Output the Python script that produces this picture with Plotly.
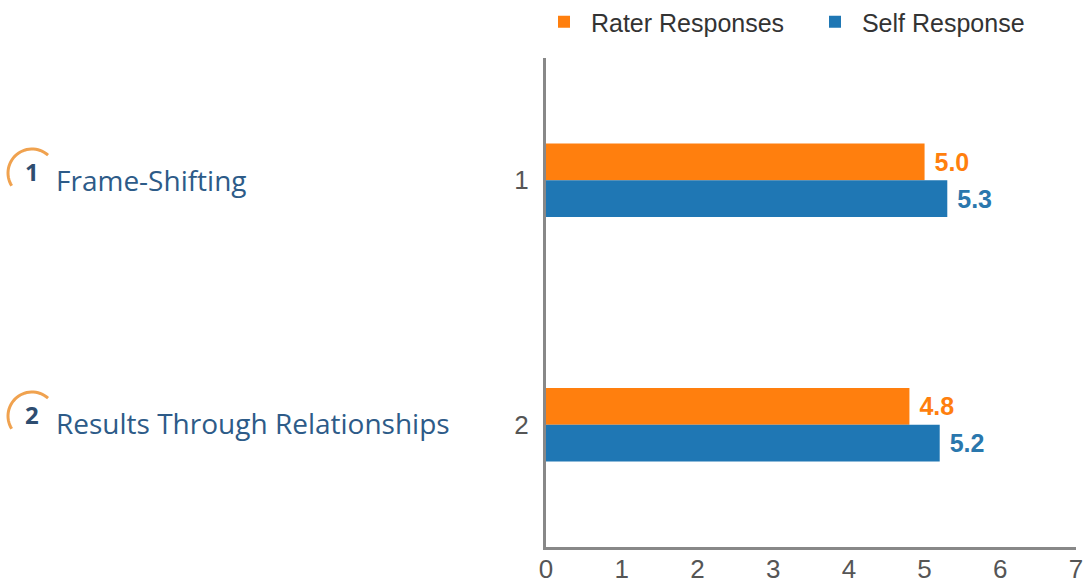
import math
import plotly.graph_objects as go

categories = [1, 2]
rater_values = [5.0, 4.8]
self_values = [5.3, 5.2]
x_ticks = [0, 1, 2, 3, 4, 5, 6, 7]
left_titles = ["Frame-Shifting", "Results Through Relationships"]
left_numbers = ["1", "2"]

W, H = 1088, 585
L, R, T, B = 546, 12, 58, 38
pw, ph = W - L - R, H - T - B

def px(x):
    return (x - L) / pw

def py(y):
    return (H - B - y) / ph

ORANGE = "#ff7f0e"
BLUE = "#1f77b4"
TICKFONT = dict(family="Liberation Sans, Arial", size=26, color="#555555")

fig = go.Figure()
fig.add_trace(go.Bar(
    y=categories, x=rater_values, orientation="h", name="\u00a0Rater Responses",
    marker=dict(color=ORANGE, line=dict(width=0)),
    texttemplate="\u00a0%{x:.1f}", textposition="outside",
    textfont=dict(family="Liberation Sans, Arial", size=25, color=ORANGE, weight="bold"),
    cliponaxis=False,
))
fig.add_trace(go.Bar(
    y=categories, x=self_values, orientation="h", name="\u00a0Self Response",
    marker=dict(color=BLUE, line=dict(width=0)),
    texttemplate="\u00a0%{x:.1f}", textposition="outside",
    textfont=dict(family="Liberation Sans, Arial", size=25, color="#2a77ad", weight="bold"),
    cliponaxis=False,
))

annotations = []
shapes = []
for i, (num, title) in enumerate(zip(left_numbers, left_titles)):
    dy = i * 243
    annotations.append(dict(
        xref="paper", yref="paper", x=px(54), y=py(180 + dy), xanchor="left", yanchor="middle",
        text=title, showarrow=False,
        font=dict(family="Open Sans", size=28, color="#2d5b88"),
    ))
    annotations.append(dict(
        xref="paper", yref="paper", x=px(32), y=py(171 + dy), xanchor="center", yanchor="middle",
        text="<b>" + num + "</b>", showarrow=False,
        font=dict(family="Open Sans", size=24, color="#2e4d70"),
    ))
    cx, cy, r = 32, 173 + dy, 24
    pts = []
    n = 30
    a0, a1 = 48, 212
    for k in range(n + 1):
        a = math.radians(a0 + (a1 - a0) * k / n)
        xx = cx + r * math.cos(a)
        yy = cy - r * math.sin(a)
        pts.append((px(xx), py(yy)))
    path = "M " + " L ".join(f"{x:.5f},{y:.5f}" for x, y in pts)
    shapes.append(dict(type="path", xref="paper", yref="paper", path=path,
                       line=dict(color="#f0a24f", width=3)))

fig.update_layout(
    width=W, height=H, autosize=False,
    margin=dict(l=L, r=R, t=T, b=B, autoexpand=False),
    paper_bgcolor="white", plot_bgcolor="white",
    barmode="group", bargap=0.7, bargroupgap=0,
    showlegend=True,
    legend=dict(orientation="h", x=px(544), y=py(22), xanchor="left", yanchor="middle",
                font=dict(family="Liberation Sans, Arial", size=25, color="#333333"),
                itemwidth=30, traceorder="normal", entrywidth=226),
    xaxis=dict(range=[0, 7], tickvals=x_ticks, showgrid=False, zeroline=False,
               showline=True, linecolor="#888888", linewidth=3,
               ticks="", tickfont=TICKFONT, ticklabelstandoff=-3, automargin=False),
    yaxis=dict(range=[2.5, 0.5], tickvals=categories, showgrid=False, zeroline=False,
               showline=True, linecolor="#888888", linewidth=3,
               ticks="", tickfont=TICKFONT, ticklabelstandoff=9, automargin=False),
    annotations=annotations,
    shapes=shapes,
)

fig.write_html("out.html", config={"responsive": False, "displayModeBar": False},
               post_script="document.body.style.margin='0';document.body.style.overflow='hidden';")
